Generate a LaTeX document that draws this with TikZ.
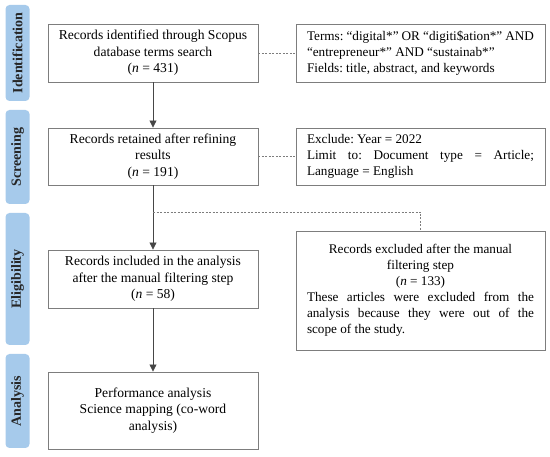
\documentclass[tikz,border=0pt]{standalone}
\usepackage{fontspec}
\setmainfont{Liberation Serif}
\usetikzlibrary{arrows.meta}
\definecolor{stageblue}{RGB}{166,202,235}
\definecolor{boxgray}{RGB}{125,125,125}
\definecolor{linegray}{RGB}{70,70,70}
\frenchspacing

\begin{document}
\begin{tikzpicture}[x=1pt,y=-1pt]
	\tikzstyle{stage}=[fill=stageblue,rounded corners=4pt,rotate=90,minimum height=24pt,
	inner sep=0pt,text=black!85,font=\fontsize{14}{16}\selectfont\bfseries]
	\tikzstyle{record}=[draw=boxgray,line width=0.9pt,minimum width=210pt,align=center,
	inner sep=0pt,font=\fontsize{13.6}{16.5}\selectfont]
	\tikzstyle{note}=[draw=boxgray,line width=0.9pt,minimum width=249pt,text width=227pt,
	align=justify,inner sep=0pt,font=\fontsize{13.2}{16}\selectfont]
	\tikzstyle{flow}=[draw=linegray,line width=0.8pt,-{Triangle[width=7pt,length=7pt]}]
	\tikzstyle{link}=[draw=boxgray,line width=0.6pt,dash pattern=on 2pt off 1.5pt]
	\useasboundingbox (0,0) rectangle (550,457);
	% stages
	\node[stage,minimum width=96pt] (ident) at (17.5,53) {Identification};
	\node[stage,minimum width=94pt] (screen) at (17.5,157) {Screening};
	\node[stage,minimum width=132pt] (elig) at (17.5,279) {Eligibility};
	\node[stage,minimum width=94pt] (anal) at (17.5,401) {Analysis};
	% main boxes
	\node[record,minimum height=58pt] (found) at (153,53)
		{Records identified through Scopus\\database terms search\\(\textit{n} = 431)};
	\node[record,minimum height=57pt] (kept) at (153,156.5)
		{Records retained after refining\\results\\(\textit{n} = 191)};
	\node[record,minimum height=58pt] (incl) at (153,279)
		{Records included in the analysis\\after the manual filtering step\\(\textit{n} = 58)};
	\node[record,minimum height=77pt] (perf) at (153,410.5)
		{Performance analysis\\Science mapping (co-word\\analysis)};
	% side boxes
	\node[note,minimum height=58pt] (terms) at (420.5,53)
		{Terms: “digital*” OR “digiti\$ation*” AND\linebreak “entrepreneur*” AND “sustainab*”\\Fields: title, abstract, and keywords};
	\node[note,minimum height=57pt] (limit) at (420.5,156.5)
		{Exclude: Year = 2022\\Limit to: Document type = Article;\linebreak Language = English};
	\node[note,minimum height=119pt] (excl) at (420.5,290.5)
		{\makebox[227pt]{Records excluded after the manual}\\\makebox[227pt]{filtering step}\\\makebox[227pt]{(\textit{n} = 133)}\\These articles were excluded from the\linebreak analysis because they were out of the\linebreak scope of the study.};
	% connectors
	\draw[flow] (found) -- (kept);
	\draw[flow] (kept) -- (incl);
	\draw[flow] (incl) -- (perf);
	\coordinate (split) at (153,212);
	\draw[link] (found) -- (terms);
	\draw[link] (kept) -- (limit);
	\draw[link] (split) -| (excl.north);
\end{tikzpicture}
\end{document}
